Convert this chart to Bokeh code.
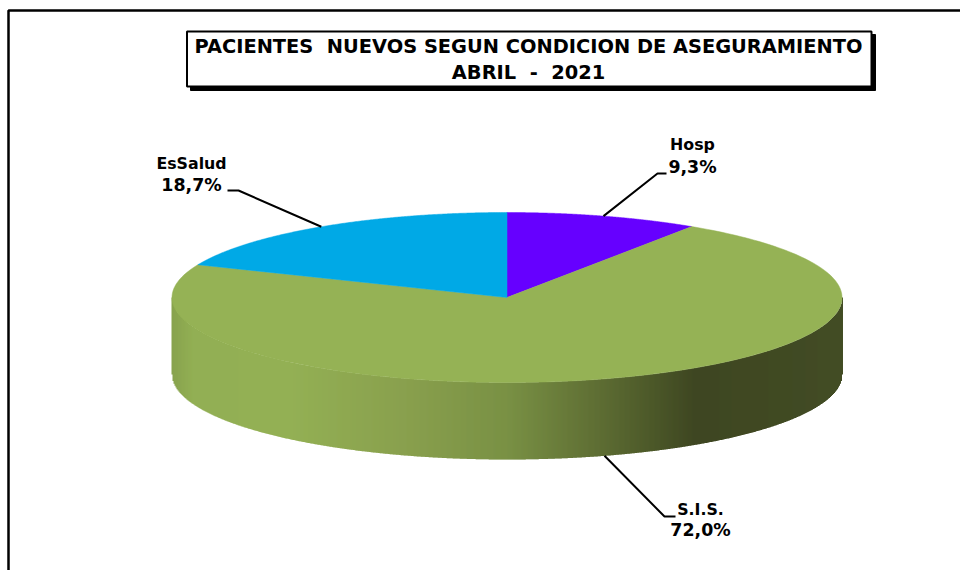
import numpy as np
from bokeh.plotting import figure
from bokeh.embed import file_html
from bokeh.resources import INLINE
from bokeh.core.properties import value
from bokeh.models import Range1d

categories = ["Hosp", "S.I.S.", "EsSalud"]
shares = [9.3, 72.0, 18.7]
pct_labels = ["9,3%", "72,0%", "18,7%"]
colors = ["#6600FF", "#95B255", "#00A9E6"]
title_lines = ["PACIENTES\u00a0 NUEVOS SEGUN CONDICION DE ASEGURAMIENTO", "ABRIL\u00a0 -\u00a0 2021"]

# pie geometry (page pixels)
CX, CY, RX, RY, DEPTH = 506.5, 297, 335, 85, 77
# side shading: x position fraction across pie -> colour
grad_pos = [0.0, 0.03, 0.17, 0.35, 0.50, 0.63, 0.72, 0.78, 1.0]
grad_rgb = [(136,163,78),(146,175,84),(148,177,85),(137,160,78),(122,145,69),(96,112,53),(76,88,41),(63,71,34),(67,77,37)]
# leader elbows and ends
leaders = {"Hosp": ((657,173),(666,173)), "S.I.S.": ((664,516),(675,516)), "EsSalud": ((238,190),(227,190))}
label_pos = {"Hosp": (692,144,166), "S.I.S.": (700,509,529), "EsSalud": (191,163,184)}

FONT = "DejaVu Sans"

p = figure(width=960, height=570, x_range=Range1d(0, 960), y_range=Range1d(570, 0),
           toolbar_location=None, output_backend="svg", min_border=0)
p.axis.visible = False
p.grid.visible = False
p.outline_line_color = None
p.background_fill_color = "white"

# outer frame
p.line([8, 8, 960], [570, 10, 10], line_color="black", line_width=2.5)

# title box with shadow
p.quad(left=[190], right=[875], top=[34], bottom=[90], fill_color="black", line_color="black")
p.quad(left=[186.5], right=[871], top=[31], bottom=[86], fill_color="white", line_color="black", line_width=2)
for line, y in zip(title_lines, [45.5, 71.5]):
    p.text([528], [y], text=[line], text_font=value(FONT), text_font_style="bold", text_font_size="19.4px",
           text_align="center", text_baseline="middle", text_color="black")

# side wall
xs = np.arange(CX - RX, CX + RX + 1)
u = np.clip((xs - CX) / RX, -1, 1)
ytop = CY + RY * np.sqrt(1 - u ** 2)
frac = (xs - xs[0]) / (xs[-1] - xs[0])
rgb = np.array([np.interp(frac, grad_pos, [c[i] for c in grad_rgb]) for i in range(3)]).T.astype(int)
side_cols = ["#%02x%02x%02x" % tuple(c) for c in rgb]
p.quad(left=xs - 0.5, right=xs + 1, top=ytop, bottom=ytop + DEPTH, fill_color=side_cols, line_color=None)

# top face wedges, clockwise from 12 o'clock
cum = np.concatenate([[0], np.cumsum(shares)]) / np.sum(shares) * 2 * np.pi
mids = {}
for i, cat in enumerate(categories):
    t = np.linspace(cum[i], cum[i + 1], 240)
    wx = np.concatenate([[CX], CX + RX * np.sin(t)])
    wy = np.concatenate([[CY], CY - RY * np.cos(t)])
    p.patch(wx, wy, fill_color=colors[i], line_color=colors[i], line_width=0.5)
    m = (cum[i] + cum[i + 1]) / 2
    my = CY - RY * np.cos(m)
    mids[cat] = (CX + RX * np.sin(m), my + (DEPTH if np.cos(m) < 0 else 0))

# leader lines and labels
for i, cat in enumerate(categories):
    (ex, ey), (fx, fy) = leaders[cat]
    p.line([mids[cat][0], ex, fx], [mids[cat][1], ey, fy], line_color="black", line_width=2)
    lx, y1, y2 = label_pos[cat]
    for txt, y, size in ((cat, y1, "15.8px"), (pct_labels[i], y2, "17.4px")):
        p.text([lx], [y], text=[txt], text_font=value(FONT), text_font_style="bold", text_font_size=size,
               text_align="center", text_baseline="middle", text_color="black")

open("out.html", "w").write(file_html(p, INLINE))
